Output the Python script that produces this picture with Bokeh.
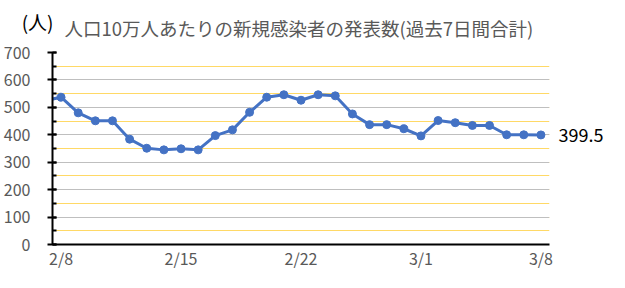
from bokeh.plotting import figure
from bokeh.models import (Range1d, SingleIntervalTicker, FixedTicker, Label,
                          ColumnDataSource, LinearAxis)
from bokeh.layouts import column
from bokeh.embed import file_html
from bokeh.resources import INLINE

# data: day index 0 = 2/8 (index -1 = 2/7, partially visible at the left edge)
days = list(range(-1, 29))
values = [524, 537, 480, 451, 451, 384, 351, 345, 349, 345, 397, 418, 482, 537, 546,
          526, 546, 542, 476, 437, 437, 422, 396, 452, 444, 434, 434, 400, 400, 399.5]
tick_days = [0, 7, 14, 21, 28]
tick_labels = ["2/8", "2/15", "2/22", "3/1", "3/8"]
title_text = "人口10万人あたりの新規感染者の発表数(過去7日間合計)"
unit_text = "(人)"
last_label = "399.5"

FONT = "Noto Sans CJK JP"
GRAY = "#595959"
W = 625
TOP_H = 40
LEFT, RIGHT = 51, 76

# ---- title strip (its frame is aligned with the chart's frame by the column) ----
top = figure(width=W, height=TOP_H, output_backend="svg", toolbar_location=None,
             x_range=Range1d(LEFT, W - RIGHT), y_range=Range1d(0, TOP_H),
             x_axis_type=None, y_axis_type=None,
             min_border_left=LEFT, min_border_right=RIGHT,
             min_border_top=0, min_border_bottom=0)
top.outline_line_color = None
top.xgrid.grid_line_color = None
top.ygrid.grid_line_color = None
top.add_layout(Label(x=63, y=TOP_H - 27, text=title_text,
                     text_font=FONT, text_font_size="18.5px", text_color=GRAY,
                     text_baseline="middle", text_align="left"))
unit_pos = TOP_H - 21
unit_axis = LinearAxis(ticker=FixedTicker(ticks=[unit_pos]),
                       major_label_overrides={unit_pos: unit_text})
unit_axis.axis_line_color = None
unit_axis.major_tick_line_color = None
unit_axis.minor_tick_line_color = None
unit_axis.major_label_text_font = FONT
unit_axis.major_label_text_font_size = "19px"
unit_axis.major_label_text_color = "black"
unit_axis.major_label_standoff = -7
top.add_layout(unit_axis, "left")

# ---- main chart ----
p = figure(width=W, height=288 - TOP_H, output_backend="svg", toolbar_location=None,
           x_range=Range1d(-0.5, 28.5), y_range=Range1d(0, 700),
           min_border_left=LEFT, min_border_right=RIGHT, min_border_top=12, min_border_bottom=44)
p.outline_line_color = None

# y axis
p.yaxis.ticker = SingleIntervalTicker(interval=100, num_minor_ticks=2)
p.yaxis.axis_line_color = "black"
p.yaxis.axis_line_width = 2
p.yaxis.major_tick_line_color = "black"
p.yaxis.major_tick_line_width = 2
p.yaxis.major_tick_out = 5
p.yaxis.major_tick_in = 4
p.yaxis.minor_tick_line_color = "black"
p.yaxis.minor_tick_line_width = 2
p.yaxis.minor_tick_in = 4
p.yaxis.minor_tick_out = 0
p.yaxis.major_label_text_font = FONT
p.yaxis.major_label_text_font_size = "16px"
p.yaxis.major_label_text_color = GRAY
p.yaxis.major_label_standoff = 17

# x axis
p.xaxis.ticker = FixedTicker(ticks=tick_days)
p.xaxis.major_label_overrides = {d: t for d, t in zip(tick_days, tick_labels)}
p.xaxis.axis_line_color = "black"
p.xaxis.axis_line_width = 2
p.xaxis.major_tick_line_color = None
p.xaxis.minor_tick_line_color = None
p.xaxis.major_label_text_font = FONT
p.xaxis.major_label_text_font_size = "16px"
p.xaxis.major_label_text_color = GRAY
p.xaxis.major_label_standoff = -5

# right-side value label for the last point
right = LinearAxis(ticker=FixedTicker(ticks=[values[-1]]),
                   major_label_overrides={values[-1]: last_label})
right.axis_line_color = None
right.major_tick_line_color = None
right.minor_tick_line_color = None
right.major_label_text_font = FONT
right.major_label_text_font_size = "18px"
right.major_label_text_color = "black"
right.major_label_standoff = 3
p.add_layout(right, "right")

# grids
p.xgrid.grid_line_color = None
p.ygrid.grid_line_color = "#BFBFBF"
p.ygrid.grid_line_width = 1
p.ygrid.minor_grid_line_color = "#FFD966"
p.ygrid.minor_grid_line_width = 1

src = ColumnDataSource(dict(x=days, y=values))
p.line("x", "y", source=src, line_color="#4472C4", line_width=3)
p.scatter("x", "y", source=src, size=8, fill_color="#4472C4", line_color="#4472C4")

layout = column(top, p, spacing=0)
open("out.html", "w").write(file_html(layout, INLINE))
